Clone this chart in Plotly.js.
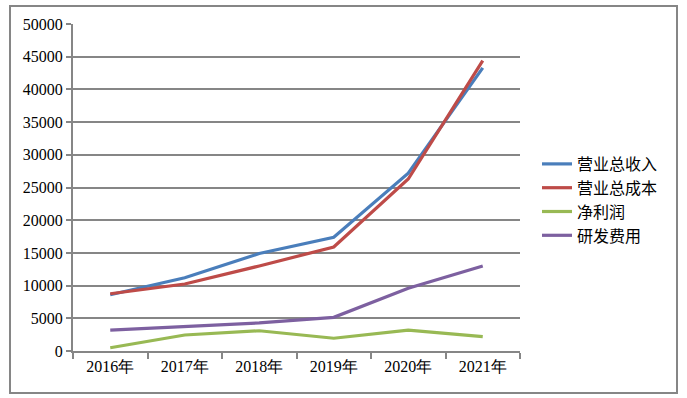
<!DOCTYPE html>
<html><head><meta charset="utf-8">
<script src="https://cdn.plot.ly/plotly-3.0.1.min.js"></script>
<style>html,body{margin:0;padding:0;background:#fff;}#chart{width:687px;height:398px;}</style>
</head><body><div id="chart"></div>
<script>
const categories = ['2016年','2017年','2018年','2019年','2020年','2021年'];
const seriesNames = ['营业总收入','营业总成本','净利润','研发费用'];
const revenue = [8600, 11200, 14900, 17400, 27200, 43300];
const cost = [8750, 10250, 13000, 15900, 26300, 44400];
const netProfit = [500, 2450, 3100, 1950, 3200, 2200];
const rd = [3200, 3700, 4300, 5150, 9600, 13000];
const yTicks = [0,5000,10000,15000,20000,25000,30000,35000,40000,45000,50000];
const colors = ['#4a7ebb','#be4b48','#98b954','#7d60a0'];

const allSeries = [revenue, cost, netProfit, rd];
const traces = allSeries.map((vals,i)=>({
  type:'scatter', mode:'lines', x:categories, y:vals, name:seriesNames[i],
  line:{color:colors[i], width:3.2}
}));

const L=73, R=520, T=24, B=351;
const pw=R-L, ph=B-T;
const px = v=>(v-L)/pw, py = v=>(B-v)/ph;
const serif = 'Liberation Serif';

const layout = {
  width:687, height:398,
  margin:{l:L, r:687-R, t:T, b:398-B, pad:0},
  paper_bgcolor:'#fff', plot_bgcolor:'#fff',
  font:{family:serif, size:16, color:'#000'},
  showlegend:true,
  legend:{x:px(537), y:py(147), xanchor:'left', yanchor:'top',
    font:{family:'Noto Sans CJK SC', size:16, color:'#000'},
    tracegroupgap:0, itemwidth:30, bgcolor:'rgba(0,0,0,0)'},
  xaxis:{type:'category', tickson:'boundaries', ticks:'outside', ticklen:6, tickwidth:2, tickcolor:'#868686',
    showline:true, linecolor:'#868686', linewidth:2, showgrid:false, zeroline:false,
    tickfont:{family:serif, size:16, color:'#000'}, range:[-0.5,5.5], fixedrange:true},
  yaxis:{range:[0,50000], tickvals:yTicks, ticktext:yTicks.map(String), ticks:'outside', ticklen:5, tickwidth:2, tickcolor:'#868686',
    showline:true, linecolor:'#868686', linewidth:2, showgrid:true, gridcolor:'#868686', gridwidth:2, zeroline:false,
    tickfont:{family:serif, size:16, color:'#000'}, fixedrange:true},
  shapes:[{type:'rect', xref:'paper', yref:'paper', x0:px(10), x1:px(677), y0:py(393), y1:py(6),
    line:{color:'#868686', width:2}, fillcolor:'rgba(0,0,0,0)', layer:'below'}]
};
Plotly.newPlot('chart', traces, layout, {displayModeBar:false, staticPlot:true});
</script></body></html>
